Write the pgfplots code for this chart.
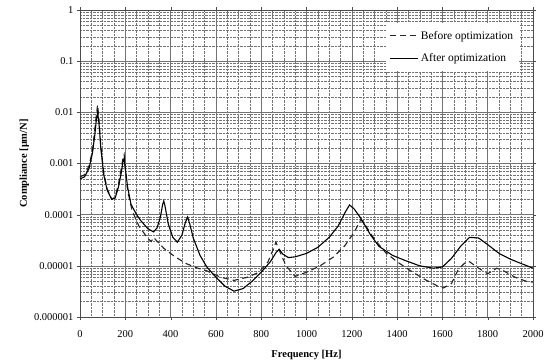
\documentclass[border=0pt]{standalone}
\usepackage{pgfplots}
\pgfplotsset{compat=1.18}
\usepackage{fontspec}
\setmainfont{Liberation Serif}
\begin{document}
\begin{tikzpicture}
\path[use as bounding box] (-80pt,-43pt) rectangle (474pt,317pt);
\begin{axis}[
  at={(0pt,0pt)}, anchor=south west,
  scale only axis, width=453pt, height=307pt,
  ymode=log, xmin=0, xmax=2000, ymin=1e-6, ymax=1,
  xtick={0,200,...,2000}, minor x tick num=3,
  ytick={1e-6,1e-5,1e-4,1e-3,1e-2,1e-1,1},
  yticklabels={0.000001,0.00001,0.0001,0.001,0.01,0.1,1},
  /pgf/number format/assume math mode=true,
  /pgf/number format/1000 sep={},
  ticklabel style={font=\fontsize{10.5}{12}\selectfont},
  xticklabel style={yshift=-7pt},
  tick align=outside, major tick length=3pt, minor tick length=0pt,
  grid=both,
  major grid style={black!55, line width=0.6pt},
  minor grid style={black!55, densely dotted, line width=0.4pt},
  axis line style={black!70},
  tick style={black!70},
  xlabel={\textbf{Frequency [Hz]}},
  ylabel={\textbf{Compliance [μm/N]}},
  label style={font=\fontsize{10.5}{12}\selectfont},
  xlabel style={yshift=-6pt},
  ylabel style={yshift=-2pt},
  legend style={at={(0.97,0.958)}, anchor=north east, draw=none, fill=white,
    font=\fontsize{11.5}{13}\selectfont, row sep=9pt, inner xsep=4pt, inner ysep=6pt,
    cells={anchor=west}},
  legend image code/.code={\draw[#1] (0pt,0pt) -- (28pt,0pt);},
]
\addplot[black!85, line width=1.1pt, dash pattern=on 6pt off 4pt] coordinates {
(0,5.5e-4) (20,6e-4) (40,9e-4) (55,1.8e-3) (65,4.5e-3) (72,9e-3) (78,1.4e-2) (84,7e-3) (92,2.2e-3) (105,6.5e-4) (120,3.2e-4) (140,2.0e-4) (155,2.2e-4) (170,4e-4) (182,8e-4) (190,1.3e-3) (195,1.5e-3) (200,8e-4) (210,3e-4) (230,1.2e-4) (260,6e-5) (300,3.4e-5) (315,3e-5) (325,3.6e-5) (335,3.2e-5) (370,2.2e-5) (420,1.5e-5) (470,1.1e-5) (520,9e-6) (560,8e-6) (620,6e-6) (680,5.2e-6) (740,6e-6) (790,7.5e-6) (830,1.2e-5) (855,2.2e-5) (865,2.9e-5) (880,2.0e-5) (910,1.0e-5) (950,6.2e-6) (1000,7.5e-6) (1060,1.0e-5) (1120,1.5e-5) (1170,2.5e-5) (1210,4.5e-5) (1240,8e-5) (1260,6.2e-5) (1300,3.3e-5) (1350,1.8e-5) (1400,1.2e-5) (1460,8e-6) (1520,5.5e-6) (1580,4e-6) (1605,3.7e-6) (1640,4.5e-6) (1670,8.5e-6) (1700,1.15e-5) (1720,1.2e-5) (1760,9e-6) (1800,7e-6) (1840,9e-6) (1870,8e-6) (1920,6e-6) (1970,5e-6) (2000,4.8e-6)
};
\addlegendentry{Before optimization}
\addplot[black, line width=1.1pt] coordinates {
(0,5.0e-4) (20,5.5e-4) (40,8e-4) (55,1.6e-3) (65,3.5e-3) (72,7e-3) (78,1.0e-2) (84,6e-3) (92,2e-3) (105,6e-4) (120,3e-4) (140,2.0e-4) (155,2.1e-4) (170,3.5e-4) (182,6.5e-4) (190,1.1e-3) (195,1.25e-3) (200,8e-4) (210,3.5e-4) (225,1.6e-4) (250,1.0e-4) (270,7.5e-5) (300,5.3e-5) (325,4.6e-5) (340,5.5e-5) (355,9e-5) (365,1.6e-4) (370,1.85e-4) (375,1.5e-4) (390,6.5e-5) (410,3.6e-5) (430,2.9e-5) (450,4e-5) (465,7e-5) (475,9e-5) (485,6.5e-5) (500,3.5e-5) (530,1.6e-5) (560,9.5e-6) (600,6e-6) (640,4e-6) (680,3.2e-6) (720,3.6e-6) (760,5e-6) (800,7.5e-6) (840,1.2e-5) (865,1.8e-5) (880,2.1e-5) (895,1.7e-5) (920,1.45e-5) (950,1.5e-5) (1000,1.75e-5) (1050,2.3e-5) (1100,3.6e-5) (1140,6e-5) (1170,1.1e-4) (1190,1.55e-4) (1210,1.3e-4) (1240,8.5e-5) (1280,4.2e-5) (1320,2.4e-5) (1380,1.6e-5) (1440,1.25e-5) (1500,1.0e-5) (1560,9e-6) (1600,9.5e-6) (1640,1.4e-5) (1680,2.4e-5) (1720,3.6e-5) (1760,3.5e-5) (1800,2.6e-5) (1850,1.75e-5) (1900,1.35e-5) (1950,1.1e-5) (2000,9e-6)
};
\addlegendentry{After optimization}
\end{axis}
\end{tikzpicture}
\end{document}
